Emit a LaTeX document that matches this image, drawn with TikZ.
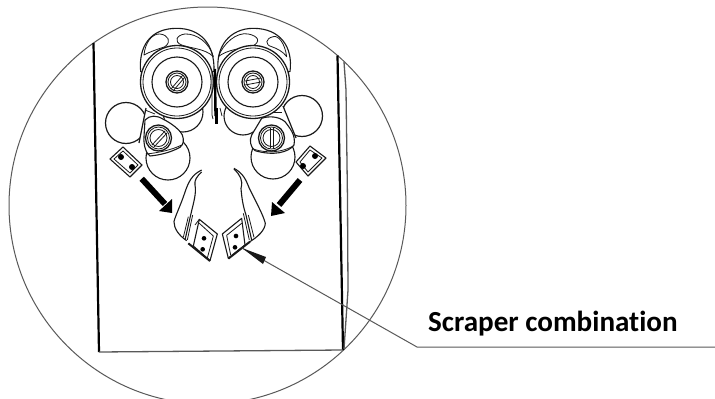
\documentclass[tikz,border=0pt]{standalone}
\usepackage{fontspec}
\setmainfont{Carlito}[Ligatures=NoCommon]
\usetikzlibrary{arrows.meta}
\definecolor{inkc}{gray}{0.1}
\definecolor{frame}{gray}{0.35}
\tikzset{
 part/.style={draw=inkc,line width=1.1pt,fill=white,line join=round},
 thin part/.style={draw=inkc,line width=0.8pt,line join=round},
 wall/.style={draw=black,line width=2.2pt},
 greyline/.style={draw=frame,line width=1pt},
 bigarrow/.style={draw=black,line width=6pt},
 arrowhead/.style={fill=black,draw=none},
 zoomed/.style={x=0.3333pt,y=-0.3333pt},
 hole/.style={fill=black,draw=none}
}
\newcommand{\hubring}[3]{%
  \draw[part,line width=1.3pt] (#1,#2) circle (#3);
  \draw[thin part] (#1,#2) circle (#3-2);
  \draw[thin part] (#1,#2) circle (#3-4.5);
}
\begin{document}
\begin{tikzpicture}[x=1pt,y=-1pt]
\useasboundingbox (0,0) rectangle (715,399);
\fill[white] (0,0) rectangle (715,399);
\begin{scope}
\clip (0,0) rectangle (715,399);
\draw[greyline] (207.5,205.5) circle (198.5);
\end{scope}
% frame of the machine
\draw[wall] (93.5,43) -- (99,352);
\draw[wall] (337.5,55.5) -- (343,350);
\draw[greyline,line width=1.3pt] (99,352) -- (343,350);
\draw[greyline,line width=1.3pt] (344,62) -- (346,90) -- (347.5,200) -- (348,290) -- (344,349);
% idlers cut by a straight edge
\draw[part,line width=1.2pt] (126,123) circle (20.5);
\fill[white] (146,108) -- (139,143) -- (150,143) -- (152,108) -- cycle;
\draw[part,fill=none,line width=1.2pt] (146,108) -- (139,143);
\draw[part,line width=1.2pt] (302,116) circle (20.5);
\fill[white] (283,106) -- (296,138) -- (280,140) -- (275,108) -- cycle;
\draw[part,fill=none,line width=1.2pt] (283,106) -- (296,138);
% lower and upper idlers
\draw[part] (168,158) circle (22);
\draw[part] (273,157) circle (22);
\draw[part] (183,112) circle (20);
\draw[part] (243,116) circle (19);
% lower housings, drawn in 3x crop units
\begin{scope}[shift={(100,90)},zoomed]
\draw[part] (135,90) .. controls (150,75) and (170,75) .. (190,88)
  .. controls (215,100) and (240,120) .. (247,135)
  .. controls (252,150) and (252,162) .. (240,172)
  .. controls (210,188) and (180,195) .. (150,198)
  .. controls (138,190) and (130,165) .. (132,140) -- cycle;
\draw[thin part] (140,192) .. controls (175,188) and (215,180) .. (245,165);
\draw[thin part] (135,60) -- (165,72);
\draw[thin part] (148,50) -- (172,66);
\end{scope}
\begin{scope}[shift={(210,90)},zoomed]
\draw[part] (155,85) .. controls (175,78) and (205,78) .. (225,95)
  .. controls (240,115) and (258,135) .. (252,165)
  .. controls (235,188) and (190,198) .. (135,182)
  .. controls (120,170) and (118,150) .. (125,135) -- cycle;
\draw[thin part] (132,178) .. controls (170,190) and (215,188) .. (250,168);
\draw[thin part] (165,68) -- (215,68);
\end{scope}
\hubring{158.5}{138}{13}
\draw[thin part] (152,145) -- (165,131);
\draw[thin part] (154,147) -- (167,133);
\hubring{271.5}{138}{13}
\draw[thin part] (270,128) -- (270,148);
\draw[thin part] (273.5,128) -- (273.5,148);
% small loose scrapers
\draw[part] (123,147) -- (142,165) -- (130,177) -- (110,159) -- cycle;
\draw[thin part] (123,151) -- (138,165) -- (130,173) -- (114,159) -- cycle;
\fill[hole] (121,157) circle (3);
\fill[hole] (132,167) circle (3);
\draw[part] (310,146) -- (326,158) -- (308,176) -- (296,162) -- cycle;
\draw[thin part] (310,150) -- (322,158) -- (308,172) -- (300,162) -- cycle;
\fill[hole] (315,156) circle (3);
\fill[hole] (303,166) circle (3);
% top covers, with the rollers over them
\begin{scope}[shift={(120,0)},zoomed]
\draw[part] (62,215) .. controls (55,140) and (90,85) .. (170,85)
  .. controls (240,85) and (285,130) .. (282,215) -- cycle;
\draw[part] (295,215) .. controls (285,140) and (330,85) .. (400,85)
  .. controls (480,85) and (520,140) .. (510,215) -- cycle;
\draw[thin part] (72,165) .. controls (75,130) and (95,100) .. (120,102)
  .. controls (145,105) and (155,125) .. (135,140)
  .. controls (115,147) and (90,155) .. (72,165) -- cycle;
\draw[thin part] (280,170) .. controls (270,130) and (230,100) .. (195,102)
  .. controls (170,105) and (160,125) .. (185,135)
  .. controls (210,145) and (255,145) .. (280,170) -- cycle;
\draw[thin part] (500,170) .. controls (495,130) and (475,105) .. (460,110)
  .. controls (435,115) and (435,135) .. (455,140)
  .. controls (470,145) and (490,155) .. (500,170) -- cycle;
\draw[thin part] (295,170) .. controls (310,130) and (350,95) .. (385,102)
  .. controls (415,108) and (425,125) .. (395,140)
  .. controls (360,145) and (320,150) .. (295,170) -- cycle;
\end{scope}
\draw[part,line width=1.3pt] (177,82) circle (36.5);
\draw[thin part] (177,82) circle (34);
\draw[part] (177,82) circle (25);
\draw[part,line width=1.3pt] (253,82) circle (36.5);
\draw[thin part] (253,82) circle (34);
\draw[part] (253,82) circle (25);
\hubring{177}{82}{11}
\draw[thin part] (171,89) -- (183,75);
\draw[thin part] (173,91) -- (185,77);
\hubring{253}{82}{11}
\draw[thin part] (245,81) -- (261,78);
\draw[thin part] (245,85) -- (261,82);
% centre strip
\draw[draw=black,line width=2.4pt] (215,69) -- (215.5,116);
\draw[draw=black,line width=3pt] (216,108) -- (216,124);
\draw[thin part] (212,72) -- (212,115) -- (213,119);
\draw[thin part] (220,108) -- (222,116);
% big arrows
\draw[bigarrow] (141.7,178.7) -- (165,204);
\fill[arrowhead] (172,213) -- (172,199) -- (159,211) -- cycle;
\draw[bigarrow] (300,180) -- (279,205);
\fill[arrowhead] (271,216) -- (272,202) -- (285,213) -- cycle;
% blades and plates
\begin{scope}[shift={(160,160)},zoomed]
\draw[part,fill=none] (125,30) .. controls (95,45) and (85,65) .. (72,105)
  .. controls (60,140) and (45,170) .. (42,185)
  .. controls (42,205) and (55,225) .. (80,242);
\draw[part,fill=none] (125,36) .. controls (110,50) and (103,60) .. (105,75)
  .. controls (110,100) and (100,130) .. (92,165) -- (75,240);
\draw[thin part] (98,165) -- (82,240);
\draw[thin part] (85,170) -- (70,232);
\draw[part] (118,178) -- (172,222) -- (150,302) -- (100,258) -- cycle;
\draw[thin part] (105,195) -- (118,178);
\draw[thin part] (118,190) -- (160,228) -- (142,294);
\draw[draw=inkc,line width=2pt] (85,250) -- (150,303);
\fill[hole] (132,235) circle (7);
\fill[hole] (128,268) circle (7);
\draw[part,fill=none] (222,25) .. controls (250,40) and (258,60) .. (268,85)
  .. controls (285,120) and (310,165) .. (316,190)
  .. controls (315,210) and (295,230) .. (268,246);
\draw[part,fill=none] (222,27) .. controls (240,45) and (250,60) .. (243,85)
  .. controls (245,110) and (248,135) .. (258,165) -- (275,240);
\draw[thin part] (250,160) -- (268,240);
\draw[thin part] (265,165) -- (282,232);
\draw[part] (245,175) -- (187,222) -- (205,295) -- (255,255) -- cycle;
\draw[thin part] (245,190) -- (200,226) -- (212,285);
\draw[draw=inkc,line width=2pt] (205,296) -- (270,245);
\fill[hole] (228,228) circle (7);
\fill[hole] (225,262) circle (7);
\end{scope}
% label and leader
\node[anchor=base west,inner sep=0pt,font=\bfseries\fontsize{29.1}{32}\selectfont,text=black] (lbl) at (428,331) {Scraper combination};
\coordinate (tip) at (242,248);
\coordinate (knee) at (417,347);
\coordinate (rim) at (715,347);
\draw[greyline,line width=1pt] (rim) -- (knee) -- (tip);
\fill[arrowhead,fill=inkc] (tip) -- (266,257) -- (263,264) -- cycle;
\end{tikzpicture}
\end{document}
